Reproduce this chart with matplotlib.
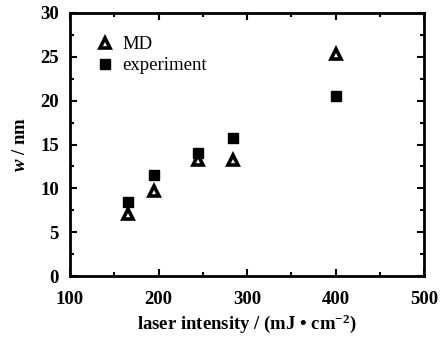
import matplotlib
matplotlib.use("Agg")
import matplotlib.pyplot as plt
from matplotlib.ticker import MultipleLocator

plt.rcParams["font.family"] = ["Liberation Serif", "DejaVu Serif"]
plt.rcParams["mathtext.fontset"] = "custom"
plt.rcParams["mathtext.rm"] = "Liberation Serif:bold"
plt.rcParams["mathtext.it"] = "Liberation Serif:italic:bold"
plt.rcParams["mathtext.bf"] = "Liberation Serif:bold"

# laser intensity (mJ/cm^2) and width w (nm)
md_intensity = [166, 195, 245, 284, 400]
md_width = [7.1, 9.7, 13.2, 13.2, 25.3]
exp_intensity = [166, 195, 245, 284, 400]
exp_width = [8.4, 11.5, 14.0, 15.7, 20.5]

x_ticks = [100, 200, 300, 400, 500]
y_ticks = [0, 5, 10, 15, 20, 25, 30]

fig = plt.figure(figsize=(4.46, 3.40), dpi=100)
ax = fig.add_axes([0.157, 0.188, 0.794, 0.774])

ax.plot(md_intensity, md_width, linestyle="none", marker="^", markersize=6.8,
        markerfacecolor="white", markeredgecolor="black", markeredgewidth=2.6,
        label="MD")
ax.plot(exp_intensity, exp_width, linestyle="none", marker="s", markersize=6.5,
        markerfacecolor="black", markeredgecolor="black", label="experiment")

ax.set_xlim(100, 500)
ax.set_ylim(0, 30)
ax.set_xticks(x_ticks)
ax.set_yticks(y_ticks)
ax.xaxis.set_minor_locator(MultipleLocator(50))
ax.yaxis.set_minor_locator(MultipleLocator(2.5))
ax.tick_params(which="both", direction="in", top=True, right=True,
               labelsize=13.5, width=1.5, colors="black")
ax.tick_params(which="major", length=5)
ax.tick_params(which="minor", length=3)
ax.tick_params(axis="x", which="major", pad=11)
ax.tick_params(axis="y", which="major", pad=8)
for s in ax.spines.values():
    s.set_linewidth(2)
for lab in ax.get_xticklabels() + ax.get_yticklabels():
    lab.set_fontweight("bold")

ax.set_xlabel(r"laser intensity / (mJ • cm$^{-2}$)", fontsize=13.5,
              fontweight="bold", labelpad=3)
ax.set_ylabel(r"$\mathit{w}$ / nm", fontsize=13.5, fontweight="bold", labelpad=8)

leg = ax.legend(loc="upper left", bbox_to_anchor=(0.05, 0.94), frameon=False,
                fontsize=13.5, handlelength=1.0, handletextpad=0.45,
                labelspacing=0.2, borderaxespad=0)

fig.savefig("out.png", dpi=100)
